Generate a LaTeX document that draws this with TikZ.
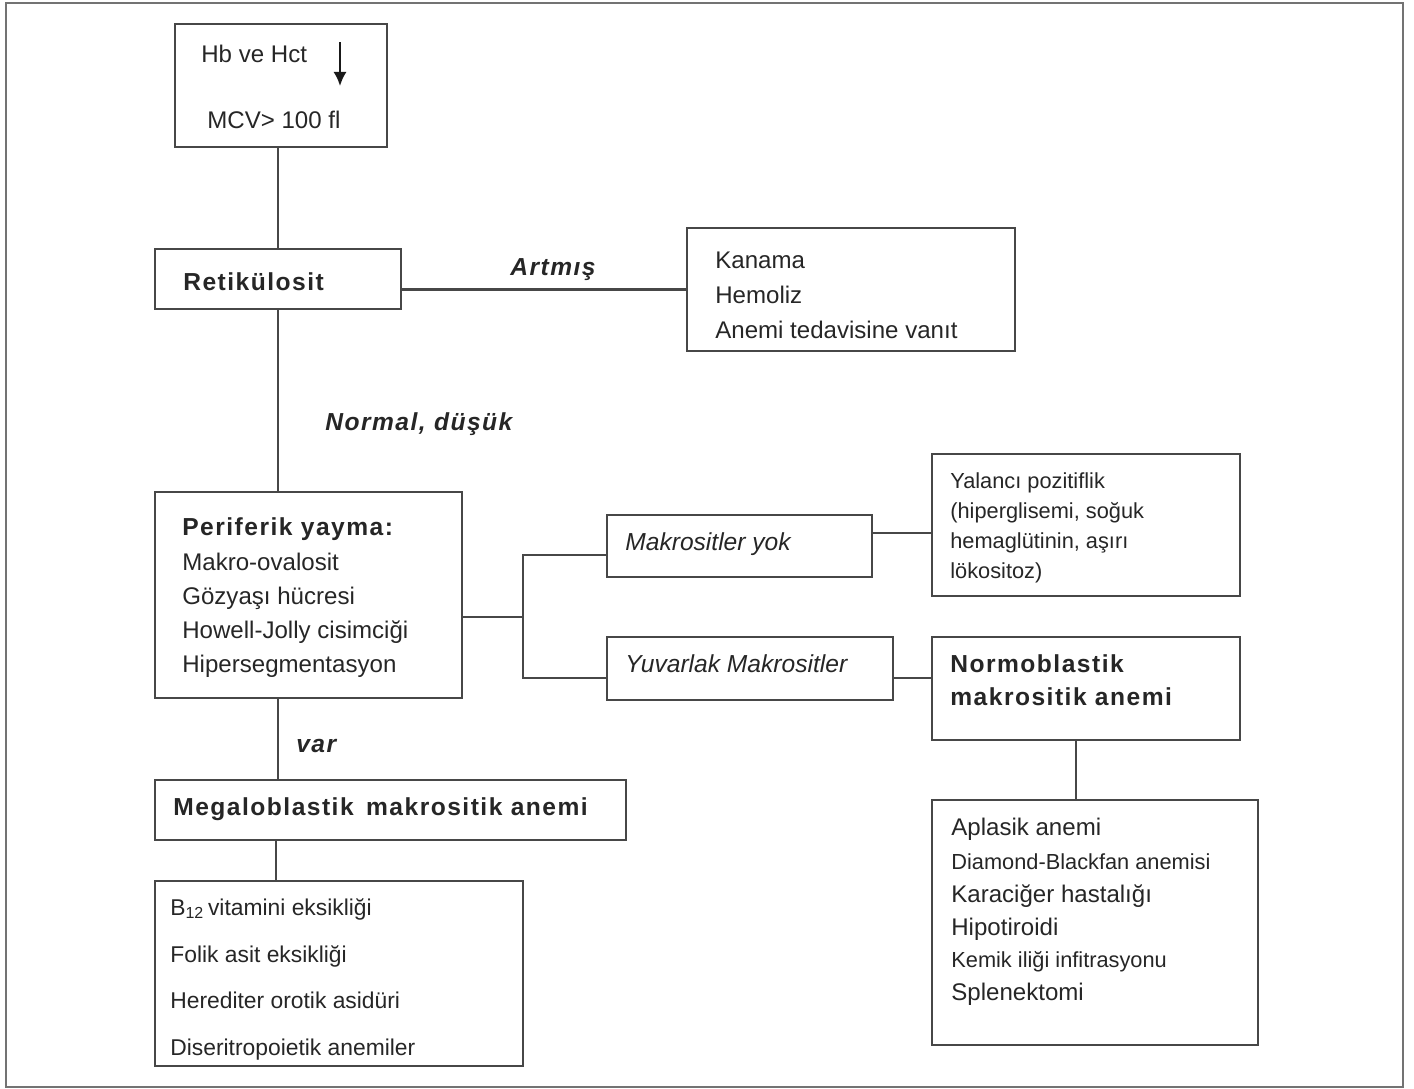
\documentclass[tikz,border=0pt]{standalone}
\usepackage{fontspec}
\usetikzlibrary{arrows.meta}
\setmainfont{Liberation Sans}
\newfontfamily\spacedfont{Liberation Sans}[LetterSpace=6]
% box given by its two corners (in pixel units of the picture)
\newcommand{\boxnode}[5]{%
  \node[box, minimum width={(#4-#2)*0.02cm}, minimum height={(#5-#3)*0.02cm}] (#1) at (#2,#3) {};}

\begin{document}
\begin{tikzpicture}[x=0.02cm, y=-0.02cm,
    box/.style={draw=black!72, line width=1.25pt, anchor=north west, inner sep=0pt, outer sep=0pt},
    link/.style={draw=black!72, line width=1.25pt},
    txt/.style={anchor=base west, inner sep=0pt, text=black!85, font=\fontsize{13.7}{16}\selectfont},
    small/.style={txt, font=\fontsize{12.4}{15}\selectfont},
    head/.style={txt, font=\spacedfont\bfseries\fontsize{14}{17}\selectfont},
    branch/.style={txt, font=\spacedfont\bfseries\itshape\fontsize{14}{17}\selectfont},
    choice/.style={txt, font=\itshape\fontsize{14}{17}\selectfont}]
    \useasboundingbox (0,0) rectangle (1414,1089);

    % Outer frame
    \draw[black!55, line width=1.6pt] (6,3) rectangle (1403,1087);

    % Start box
    \boxnode{hb}{175}{24}{387}{147}
    \node[txt] (hbtext) at (201,62) {Hb ve Hct};
    \node[txt] (mcv) at (207,128) {MCV> 100 fl};
    \coordinate (downtop) at (340,42);
    \coordinate (downtip) at (340,86);
    \draw[black!90, line width=1.3pt, -{Latex[length=8pt,width=7.5pt]}] (downtop) -- (downtip);

    % Reticulocytes
    \boxnode{reti}{155}{249}{401}{309}
    \node[head] (retitext) at (183,290) {Retikülosit};

    % Increased reticulocytes
    \boxnode{kanama}{687}{228}{1015}{351}
    \node[txt] (kanama1) at (715,268) {Kanama};
    \node[txt] (kanama2) at (715,303) {Hemoliz};
    \node[txt] (kanama3) at (715,338) {Anemi tedavisine vanıt};
    \node[branch] (artmis) at (510,275) {Artmış};

    % Peripheral smear
    \boxnode{peri}{155}{492}{462}{698}
    \node[head] (peri0) at (182,535) {Periferik yayma:};
    \node[txt] (peri1) at (182,570) {Makro-ovalosit};
    \node[txt] (peri2) at (182,604) {Gözyaşı hücresi};
    \node[txt] (peri3) at (182,638) {Howell-Jolly cisimciği};
    \node[txt] (peri4) at (182,672) {Hipersegmentasyon};
    \node[branch] (normal) at (325,430) {Normal, düşük};

    % Right hand branches
    \boxnode{makyok}{607}{515}{872}{577}
    \node[choice] (makyoktext) at (625,550) {Makrositler yok};
    \boxnode{yalanci}{932}{454}{1240}{596}
    \node[small] (yal1) at (950,488) {Yalancı pozitiflik};
    \node[small] (yal2) at (950,518) {(hiperglisemi, soğuk};
    \node[small] (yal3) at (950,548) {hemaglütinin, aşırı};
    \node[small] (yal4) at (950,578) {lökositoz)};

    \boxnode{yuvarlak}{607}{637}{893}{700}
    \node[choice] (yuvtext) at (625,672) {Yuvarlak Makrositler};
    \boxnode{normo}{932}{637}{1240}{740}
    \node[head] (normo1) at (950,672) {Normoblastik};
    \node[head] (normo2) at (950,705) {makrositik anemi};

    \boxnode{aplasik}{932}{800}{1258}{1045}
    \node[txt] (apl1) at (951,835) {Aplasik anemi};
    \node[small] (apl2) at (951,869) {Diamond-Blackfan anemisi};
    \node[txt] (apl3) at (951,902) {Karaciğer hastalığı};
    \node[txt] (apl4) at (951,935) {Hipotiroidi};
    \node[small] (apl5) at (951,967) {Kemik iliği infitrasyonu};
    \node[txt] (apl6) at (951,1000) {Splenektomi};

    % Megaloblastic branch
    \boxnode{mega}{155}{780}{626}{840}
    \node[head] (megatext) at (173,815) {Megaloblastik\, makrositik anemi};
    \node[branch] (var) at (296,752) {var};
    \boxnode{b12}{155}{881}{523}{1066}
    \node[txt, font=\fontsize{13}{15}\selectfont] (b1) at (170,915) {B\textsubscript{12}\,vitamini eksikliği};
    \node[txt, font=\fontsize{13}{15}\selectfont] (b2) at (170,962) {Folik asit eksikliği};
    \node[txt, font=\fontsize{13}{15}\selectfont] (b3) at (170,1008) {Herediter orotik asidüri};
    \node[txt, font=\fontsize{13}{15}\selectfont] (b4) at (170,1055) {Diseritropoietik anemiler};

    % Connectors
    \coordinate (split) at (523,617);
    \draw[link] (reti.north |- hb.south) -- (reti.north);
    \draw[link] (reti.east |- kanama.west) -- (kanama.west);
    \draw[link] (reti.south) -- (reti.south |- peri.north);
    \draw[link] (peri.east |- split) -- (split);
    \draw[link] (makyok.west |- 0,555) -| (split) |- (yuvarlak.west |- 0,678);
    \draw[link] (makyok.east |- 0,533) -- (yalanci.west |- 0,533);
    \draw[link] (yuvarlak.east |- 0,678) -- (normo.west |- 0,678);
    \draw[link] (1076,0 |- normo.south) -- (1076,0 |- aplasik.north);
    \draw[link] (278,0 |- peri.south) -- (278,0 |- mega.north);
    \draw[link] (276,0 |- mega.south) -- (276,0 |- b12.north);
\end{tikzpicture}
\end{document}
